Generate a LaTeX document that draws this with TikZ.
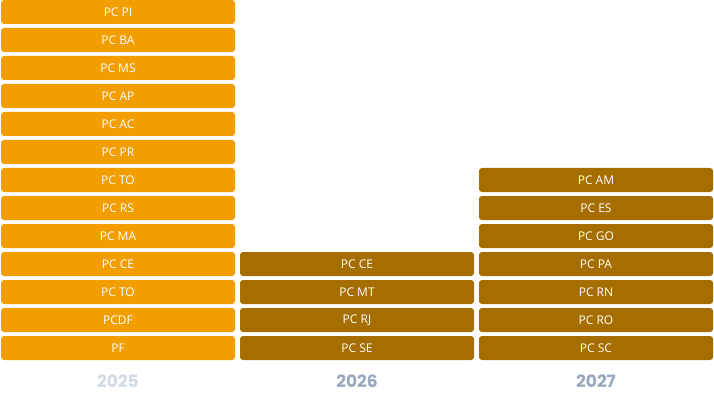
\documentclass[tikz,border=0pt]{standalone}
\usepackage{fontspec}
\setmainfont{Open Sans}
\newfontfamily\yearfont{Poppins}
\definecolor{orangeA}{HTML}{F29D00}
\definecolor{brownA}{HTML}{A66E00}
\definecolor{yearlight}{HTML}{D2DAE6}
\definecolor{yeardark}{HTML}{9AA8BF}
\tikzset{
  boxA/.style={fill=orangeA, rounded corners=3pt, minimum width=234pt, minimum height=24pt, inner sep=0pt, text=white, font=\fontsize{12}{14}\selectfont},
  boxB/.style={boxA, fill=brownA},
  yearlbl/.style={font=\yearfont\bfseries\fontsize{17}{20}\selectfont}
}
\begin{document}
\begin{tikzpicture}[x=1pt,y=-1pt]
\useasboundingbox (0,0) rectangle (714,398);
\foreach \t [count=\i from 0] in {PC PI,PC BA,PC MS,PC AP,PC AC,PC PR,PC TO,PC RS,PC MA,PC CE,PC TO,PCDF,PF}
  \node[boxA] (a\i) at (118,12+28*\i) {\t};
\foreach \t [count=\i from 9] in {PC CE,PC MT,PC RJ,PC SE}
  \node[boxB] (b\i) at (357,12+28*\i) {\t};
\foreach \t [count=\i from 6] in {PC AM,PC ES,PC GO,PC PA,PC RN,PC RO,PC SC}
  \node[boxB] (c\i) at (596,12+28*\i) {\t};
\node[yearlbl, text=yearlight] (y1) at (118,381) {2025};
\node[yearlbl, text=yeardark] (y2) at (357,381) {2026};
\node[yearlbl, text=yeardark] (y3) at (596,381) {2027};
\end{tikzpicture}
\end{document}
